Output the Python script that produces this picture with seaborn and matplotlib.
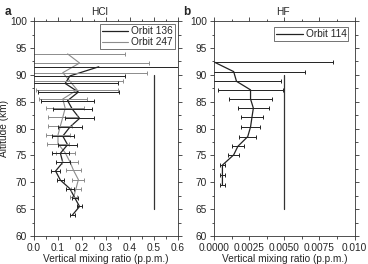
import matplotlib
matplotlib.use("Agg")
import matplotlib.pyplot as plt
import seaborn as sns
import numpy as np

# HCl, orbit 136 (black)
hcl136_alt = [91.5, 89.8, 88.4, 86.8, 85.2, 83.6, 81.9, 80.3, 78.6, 77.0, 75.4, 73.7, 72.1, 70.4, 68.8, 67.1, 65.5, 63.9]
hcl136_val = [0.27, 0.15, 0.13, 0.185, 0.14, 0.16, 0.19, 0.15, 0.12, 0.14, 0.11, 0.12, 0.09, 0.11, 0.15, 0.17, 0.19, 0.16]
hcl136_err = [0.45, 0.23, 0.22, 0.17, 0.11, 0.08, 0.06, 0.05, 0.045, 0.04, 0.035, 0.03, 0.02, 0.015, 0.015, 0.012, 0.012, 0.01]

# HCl, orbit 247 (grey)
hcl247_alt = [93.9, 92.2, 90.4, 88.8, 87.2, 85.5, 83.8, 82.1, 80.5, 78.8, 77.2, 75.5, 73.8, 72.2, 70.5, 68.8, 67.2]
hcl247_val = [0.14, 0.19, 0.12, 0.15, 0.18, 0.12, 0.13, 0.12, 0.11, 0.10, 0.10, 0.13, 0.15, 0.165, 0.185, 0.175, 0.165]
hcl247_err = [0.24, 0.29, 0.35, 0.22, 0.17, 0.10, 0.08, 0.06, 0.05, 0.05, 0.045, 0.04, 0.035, 0.03, 0.025, 0.02, 0.015]

# HF, orbit 114
hf_alt = [92.4, 90.6, 88.8, 87.2, 85.5, 83.8, 82.1, 80.3, 78.5, 76.7, 75.1, 73.2, 71.3, 69.5]
hf_val = [0.0, 0.0014, 0.0016, 0.0026, 0.0026, 0.0028, 0.0027, 0.0026, 0.0024, 0.0017, 0.0014, 0.0006, 0.0006, 0.0006]
hf_err = [0.0085, 0.0051, 0.0032, 0.0023, 0.0015, 0.0011, 0.0008, 0.0007, 0.0006, 0.0004, 0.0004, 0.00015, 0.00015, 0.00015]

# vertical reference bars
hcl_ref_x = [0.5, 0.5]
hf_ref_x = [0.005, 0.005]
ref_alt = [65, 90]

sns.set_style("ticks")
plt.rcParams['font.family'] = ['Liberation Sans', 'DejaVu Sans']
plt.rcParams['font.size'] = 7.3

fig = plt.figure(figsize=(3.68, 2.64), dpi=100)
ax1 = fig.add_axes([0.0924, 0.106, 0.391, 0.814])
ax2 = fig.add_axes([0.5815, 0.106, 0.382, 0.814])

grey = "#8c8c8c"
dark = "#222222"

def style_axis(ax, xmax, xmajor):
    ax.set_ylim(60, 100)
    ax.set_xlim(0, xmax)
    ax.set_yticks(np.arange(60, 101, 5))
    ax.set_yticks(np.arange(60, 101, 2.5), minor=True)
    ax.set_xticks(np.arange(0, xmax + xmajor / 2, xmajor))
    ax.set_xticks(np.arange(0, xmax + xmajor / 4, xmajor / 2), minor=True)
    ax.tick_params(which='both', top=True, right=True, direction='out',
                   labelsize=7.3, width=0.6, color='#333333', pad=2)
    ax.tick_params(which='major', length=3)
    ax.tick_params(which='minor', length=1.8)
    for s in ax.spines.values():
        s.set_linewidth(0.6)
        s.set_color('#333333')
    ax.set_xlabel("Vertical mixing ratio (p.p.m.)", fontsize=7.3, labelpad=1)

# panel a
sns.lineplot(x=hcl247_val, y=hcl247_alt, orient='y', sort=False, color=grey,
             lw=0.8, ax=ax1, label="Orbit 247")
sns.lineplot(x=hcl136_val, y=hcl136_alt, orient='y', sort=False, color=dark,
             lw=0.9, ax=ax1, label="Orbit 136")
ax1.errorbar(hcl247_val, hcl247_alt, xerr=hcl247_err, fmt='none', ecolor=grey,
             elinewidth=0.7, capsize=1.5, capthick=0.7)
ax1.errorbar(hcl136_val, hcl136_alt, xerr=hcl136_err, fmt='none', ecolor=dark,
             elinewidth=0.7, capsize=1.5, capthick=0.7)
ax1.plot(hcl_ref_x, ref_alt, color='#333333', lw=0.9)
style_axis(ax1, 0.6, 0.1)
ax1.set_xticklabels([f"{v:.1f}" for v in np.arange(0, 0.61, 0.1)])
ax1.set_ylabel("Altitude (km)", fontsize=7.3)
ax1.yaxis.set_label_coords(-0.175, 0.5)
h, l = ax1.get_legend_handles_labels()
ax1.legend(h[::-1], l[::-1], loc='upper right', fontsize=7.3, frameon=True,
           fancybox=False, edgecolor='#333333', handlelength=2.6,
           borderpad=0.2, labelspacing=0.1, handletextpad=0.3,
           borderaxespad=0.3).get_frame().set_linewidth(0.6)

# panel b
sns.lineplot(x=hf_val, y=hf_alt, orient='y', sort=False, color=dark,
             lw=0.9, ax=ax2, label="Orbit 114")
ax2.errorbar(hf_val, hf_alt, xerr=hf_err, fmt='none', ecolor=dark,
             elinewidth=0.7, capsize=1.5, capthick=0.7)
ax2.plot(hf_ref_x, ref_alt, color='#333333', lw=0.9)
style_axis(ax2, 0.010, 0.0025)
ax2.set_xticklabels(["0.0000", "0.0025", "0.0050", "0.0075", "0.010"])
ax2.set_ylabel("")
ax2.legend(loc='upper right', fontsize=7.3, frameon=True, fancybox=False,
           edgecolor='#333333', handlelength=2.6, borderpad=0.2,
           handletextpad=0.3, borderaxespad=0.6).get_frame().set_linewidth(0.6)

fig.text(0.012, 0.945, "a", fontsize=8.5, fontweight='bold')
fig.text(0.27, 0.945, "HCl", fontsize=7.3, ha='center')
fig.text(0.497, 0.945, "b", fontsize=8.5, fontweight='bold')
fig.text(0.77, 0.945, "HF", fontsize=7.3, ha='center')

fig.savefig("out.png", dpi=100)
